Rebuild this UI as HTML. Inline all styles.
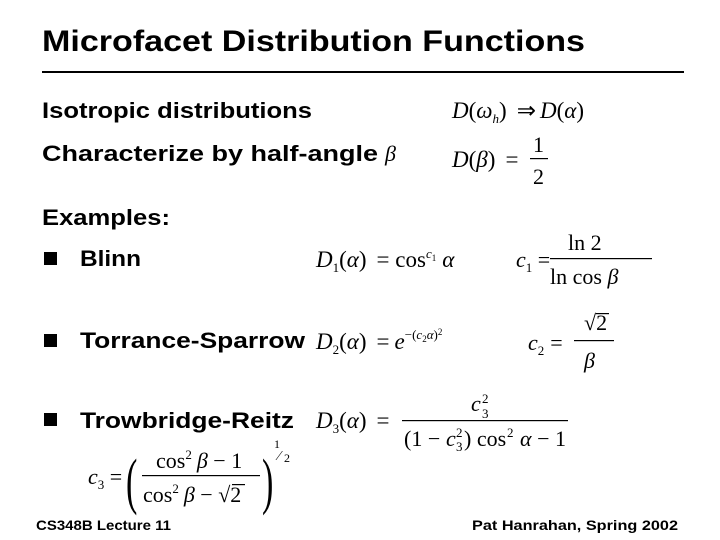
<!DOCTYPE html>
<html><head><meta charset="utf-8"><style>
html,body{margin:0;padding:0;background:#fff}
svg{display:block}
.h{font-family:"Liberation Sans",sans-serif;font-weight:bold;fill:#000}
.m{font-family:"Liberation Serif",serif;fill:#000}
.i{font-style:italic}
</style></head><body>
<svg width="720" height="540" viewBox="0 0 720 540" xmlns="http://www.w3.org/2000/svg">
<text class="h" x="42" y="51" font-size="30" textLength="543" lengthAdjust="spacingAndGlyphs">Microfacet Distribution Functions</text>
<rect x="42" y="71" width="642" height="2" fill="#000"/>
<text class="h" x="42" y="118" font-size="22" textLength="270" lengthAdjust="spacingAndGlyphs">Isotropic distributions</text>
<text class="h" x="42" y="161" font-size="22" textLength="336" lengthAdjust="spacingAndGlyphs">Characterize by half-angle</text>
<text class="m i" x="385" y="161" font-size="22">β</text>
<text class="h" x="42" y="225" font-size="22" textLength="128" lengthAdjust="spacingAndGlyphs">Examples:</text>
<rect x="44" y="252" width="13" height="13"/>
<text class="h" x="80" y="266" font-size="22" textLength="61" lengthAdjust="spacingAndGlyphs">Blinn</text>
<rect x="44" y="334" width="13" height="13"/>
<text class="h" x="80" y="348" font-size="22" textLength="225" lengthAdjust="spacingAndGlyphs">Torrance-Sparrow</text>
<rect x="44" y="413" width="13" height="13"/>
<text class="h" x="80" y="428" font-size="22" textLength="214" lengthAdjust="spacingAndGlyphs">Trowbridge-Reitz</text>

<g class="m" font-size="22">
<text x="452" y="118" font-size="23"><tspan class="i">D</tspan>(<tspan class="i">ω</tspan><tspan class="i" font-size="13" dy="5">h</tspan><tspan dy="-5">)</tspan><tspan dx="10">⇒</tspan><tspan class="i" dx="4">D</tspan>(<tspan class="i">α</tspan>)</text>
<text x="452" y="167" font-size="23"><tspan class="i">D</tspan>(<tspan class="i">β</tspan>)<tspan dx="10">=</tspan></text>
<text x="533" y="152">1</text>
<rect x="530" y="158" width="18" height="1.2"/>
<text x="533" y="184">2</text>

<text x="316" y="267" font-size="23"><tspan class="i">D</tspan><tspan font-size="13" dy="5">1</tspan><tspan dy="-5">(</tspan><tspan class="i">α</tspan>)<tspan dx="10">= cos</tspan><tspan class="i" font-size="13" dy="-9">c</tspan><tspan font-size="9" dy="3">1</tspan><tspan class="i" dy="6" dx="6">α</tspan></text>
<text x="516" y="267"><tspan class="i">c</tspan><tspan font-size="13" dy="5">1</tspan><tspan dy="-5"> =</tspan></text>
<text x="568" y="250">ln 2</text>
<rect x="550" y="258" width="102" height="1.2"/>
<text x="550" y="284">ln cos <tspan class="i">β</tspan></text>

<text x="316" y="349" font-size="23"><tspan class="i">D</tspan><tspan font-size="13" dy="5">2</tspan><tspan dy="-5">(</tspan><tspan class="i">α</tspan>)<tspan dx="10">=</tspan><tspan class="i" dx="5">e</tspan><tspan font-size="13" dy="-10">−(</tspan><tspan class="i" font-size="13">c</tspan><tspan font-size="9" dy="3">2</tspan><tspan class="i" font-size="13" dy="-3">α</tspan><tspan font-size="13">)</tspan><tspan font-size="9" dy="-4">2</tspan></text>
<text x="528" y="350"><tspan class="i">c</tspan><tspan font-size="13" dy="5">2</tspan><tspan dy="-5" dx="6">=</tspan></text>
<text x="584" y="330">√2</text>
<rect x="596" y="313" width="13" height="1.2"/>
<rect x="574" y="340" width="40" height="1.2"/>
<text x="584" y="368" class="i">β</text>

<text x="316" y="428" font-size="23"><tspan class="i">D</tspan><tspan font-size="13" dy="5">3</tspan><tspan dy="-5">(</tspan><tspan class="i">α</tspan>)<tspan dx="10">=</tspan></text>
<text x="471" y="411" class="i">c</text><text x="482" y="418" font-size="13">3</text><text x="482" y="403" font-size="13">2</text>
<rect x="402" y="420" width="166" height="1.2"/>
<text x="404" y="446">(1 − </text>
<text x="446" y="446" class="i">c</text>
<text x="456" y="451" font-size="13">3</text><text x="456" y="437" font-size="13">2</text>
<text x="464" y="446">) cos</text><text x="507" y="437" font-size="13">2</text><text x="520" y="446"><tspan class="i">α</tspan> − 1</text>

<text x="88" y="484"><tspan class="i">c</tspan><tspan font-size="13" dy="5">3</tspan><tspan dy="-5"> =</tspan></text>
<text x="126" y="502" font-size="62" transform="translate(126 0) scale(0.55 1) translate(-126 0)">(</text>
<text x="156" y="468">cos<tspan font-size="13" dy="-9">2</tspan><tspan class="i" dy="9" dx="5">β</tspan> − 1</text>
<rect x="142" y="475" width="118" height="1.2"/>
<text x="143" y="502">cos<tspan font-size="13" dy="-9">2</tspan><tspan class="i" dy="9" dx="5">β</tspan> − √2</text>
<rect x="232" y="484" width="13" height="1.2"/>
<text x="262" y="502" font-size="62" transform="translate(262 0) scale(0.55 1) translate(-262 0)">)</text>
<text x="274" y="448" font-size="12">1</text><text x="278" y="460" font-size="14">⁄</text><text x="284" y="462" font-size="12">2</text>
</g>

<text class="h" x="36" y="530" font-size="14" textLength="135" lengthAdjust="spacingAndGlyphs">CS348B Lecture 11</text>
<text class="h" x="472" y="530" font-size="14" textLength="206" lengthAdjust="spacingAndGlyphs">Pat Hanrahan, Spring 2002</text>
</svg>
</body></html>
